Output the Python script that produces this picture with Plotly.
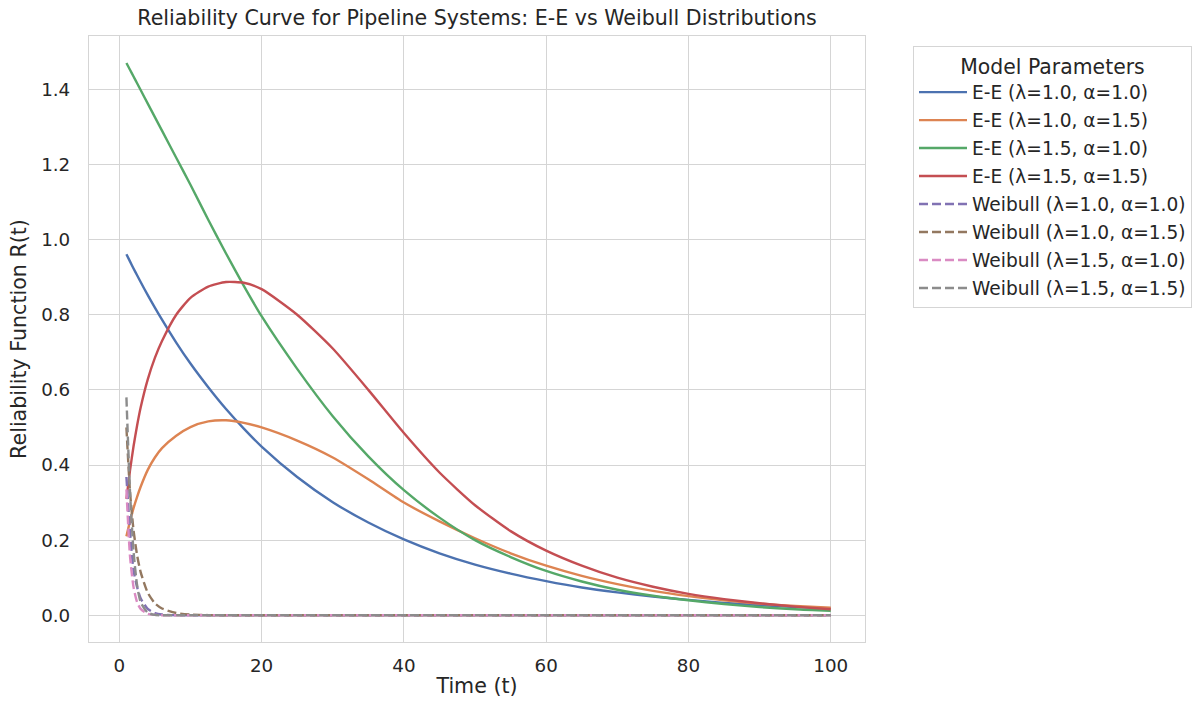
import plotly.graph_objects as go

t = [1, 1.5, 2, 2.5, 3, 4, 5, 6, 8, 10, 12.5, 15, 17.5, 20, 25, 30, 35, 40, 45, 50,
     55, 60, 65, 70, 75, 80, 85, 90, 95, 100]

ee_l10_a10 = [0.961, 0.942, 0.923, 0.905, 0.887, 0.852, 0.819, 0.787, 0.726, 0.670, 0.607, 0.549,
              0.497, 0.449, 0.368, 0.301, 0.247, 0.202, 0.165, 0.135, 0.111, 0.091, 0.074, 0.061,
              0.050, 0.041, 0.033, 0.027, 0.022, 0.018]
ee_l10_a15 = [0.21, 0.25, 0.285, 0.315, 0.342, 0.387, 0.42, 0.445, 0.478, 0.501, 0.516, 0.519,
              0.512, 0.50, 0.465, 0.42, 0.362, 0.30, 0.25, 0.205, 0.165, 0.132, 0.105, 0.083,
              0.065, 0.051, 0.04, 0.031, 0.025, 0.02]
ee_l15_a10 = [1.47, 1.452, 1.434, 1.416, 1.398, 1.362, 1.326, 1.29, 1.218, 1.146, 1.053, 0.963,
              0.877, 0.796, 0.656, 0.530, 0.423, 0.333, 0.26, 0.20, 0.155, 0.118, 0.09, 0.068,
              0.052, 0.04, 0.03, 0.022, 0.016, 0.012]
ee_l15_a15 = [0.31, 0.385, 0.45, 0.505, 0.553, 0.628, 0.685, 0.73, 0.80, 0.845, 0.875, 0.887,
              0.885, 0.868, 0.80, 0.71, 0.60, 0.485, 0.38, 0.293, 0.224, 0.172, 0.132, 0.100,
              0.076, 0.057, 0.043, 0.032, 0.023, 0.016]
wb_l10_a10 = [0.368, 0.223, 0.12, 0.075, 0.045, 0.017, 0.006, 0.002, 0.0003, 0, 0, 0,
              0, 0, 0, 0, 0, 0, 0, 0, 0, 0, 0, 0, 0, 0, 0, 0, 0, 0]
wb_l10_a15 = [0.50, 0.33, 0.226, 0.16, 0.115, 0.06, 0.032, 0.018, 0.006, 0.002, 0.0005, 0,
              0, 0, 0, 0, 0, 0, 0, 0, 0, 0, 0, 0, 0, 0, 0, 0, 0, 0]
wb_l15_a10 = [0.335, 0.158, 0.075, 0.035, 0.017, 0.004, 0.001, 0.0002, 0, 0, 0, 0,
              0, 0, 0, 0, 0, 0, 0, 0, 0, 0, 0, 0, 0, 0, 0, 0, 0, 0]
wb_l15_a15 = [0.58, 0.33, 0.17, 0.08, 0.035, 0.007, 0.001, 0, 0, 0, 0, 0,
              0, 0, 0, 0, 0, 0, 0, 0, 0, 0, 0, 0, 0, 0, 0, 0, 0, 0]

names = ["E-E (λ=1.0, α=1.0)", "E-E (λ=1.0, α=1.5)", "E-E (λ=1.5, α=1.0)", "E-E (λ=1.5, α=1.5)",
         "Weibull (λ=1.0, α=1.0)", "Weibull (λ=1.0, α=1.5)", "Weibull (λ=1.5, α=1.0)",
         "Weibull (λ=1.5, α=1.5)"]
series = [ee_l10_a10, ee_l10_a15, ee_l15_a10, ee_l15_a15,
          wb_l10_a10, wb_l10_a15, wb_l15_a10, wb_l15_a15]
colors = ["#4C72B0", "#DD8452", "#55A868", "#C44E52",
          "#8172B3", "#937860", "#DA8BC3", "#8C8C8C"]
dashes = ["solid"] * 4 + ["9px,4px"] * 4

fig = go.Figure()
for i, (nm, ys, c, d) in enumerate(zip(names, series, colors, dashes)):
    fig.add_trace(go.Scatter(
        x=t, y=ys, mode="lines", name=nm, legendgroup=f"g{i}",
        line=dict(color=c, width=2.4, dash=d, shape="spline", smoothing=0.6),
    ))

font_family = "DejaVu Sans"
txt = "#262626"
fig.update_layout(
    width=1195, height=707,
    margin=dict(l=89, r=330, t=36, b=65, autoexpand=False),
    paper_bgcolor="white", plot_bgcolor="white",
    font=dict(family=font_family, color=txt, size=18.3),
    title=dict(text="Reliability Curve for Pipeline Systems: E-E vs Weibull Distributions",
               x=0.5, xref="paper", xanchor="center", y=1 - 18 / 707, yanchor="middle",
               font=dict(size=20.6, color=txt, family=font_family)),
    legend=dict(
        x=(913 - 89) / 776, xanchor="left", y=(642 - 46) / 606, yanchor="top",
        bordercolor="#d5d5d5", borderwidth=1, bgcolor="white",
        font=dict(size=18.6, color=txt, family=font_family),
        title=dict(text="Model Parameters", side="top center",
                   font=dict(size=20.4, color=txt, family=font_family)),
        tracegroupgap=0.8, traceorder="grouped", itemwidth=48,
    ),
    showlegend=True,
)
fig.update_xaxes(
    range=[-4.26, 104.81], tickvals=[0, 20, 40, 60, 80, 100],
    showgrid=True, gridcolor="#d5d5d5", gridwidth=1, zeroline=False,
    showline=True, mirror=True, linecolor="#d5d5d5", linewidth=1.25,
    ticks="", ticklabelstandoff=7, automargin=False,
    title=dict(text="Time (t)", font=dict(size=20.6, color=txt), standoff=3),
    tickfont=dict(size=18.3, color=txt),
)
fig.update_yaxes(
    range=[-0.0711, 1.5419], tickvals=[0, 0.2, 0.4, 0.6, 0.8, 1.0, 1.2, 1.4],
    ticktext=["0.0", "0.2", "0.4", "0.6", "0.8", "1.0", "1.2", "1.4"],
    showgrid=True, gridcolor="#d5d5d5", gridwidth=1, zeroline=False,
    showline=True, mirror=True, linecolor="#d5d5d5", linewidth=1.25,
    ticks="", ticklabelstandoff=14, automargin=False,
    title=dict(text="Reliability Function R(t)", font=dict(size=20.6, color=txt), standoff=8),
    tickfont=dict(size=18.3, color=txt),
)
fig.write_html("out.html")
